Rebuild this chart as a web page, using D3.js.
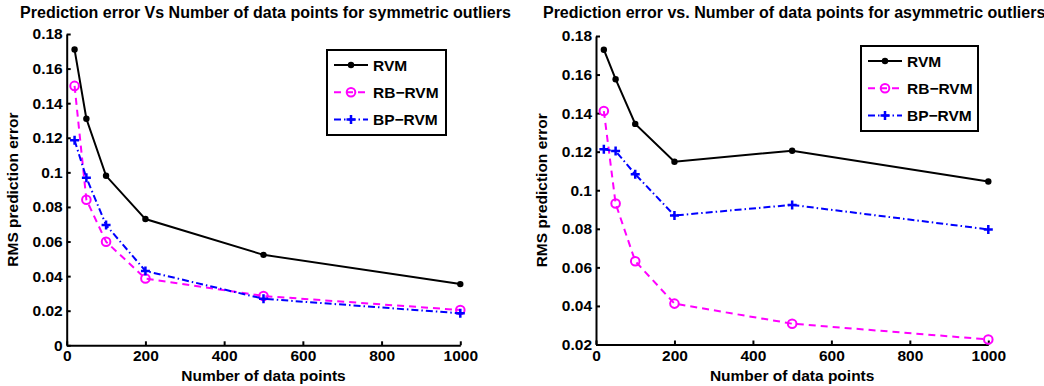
<!DOCTYPE html>
<html>
<head>
<meta charset="utf-8">
<script src="https://cdn.jsdelivr.net/npm/d3@7"></script>
<style>
  body { margin:0; background:#fff; }
  svg { display:block; font-family:"Liberation Sans", Arial, Helvetica, sans-serif; font-weight:bold; }
  .axis path, .axis line { stroke:#000; stroke-width:2; }
  .axis text { font-size:15.5px; fill:#000; font-weight:bold; }
</style>
</head>
<body>
<svg id="chart" width="1044" height="386"></svg>
<script>
const pointsX = [20, 50, 100, 200, 500, 1000];
const xTicks = [0, 200, 400, 600, 800, 1000];

// symmetric outliers
const symRVM   = [0.171, 0.131, 0.098, 0.073, 0.0523, 0.0354];
const symRB    = [0.150, 0.0842, 0.0599, 0.0386, 0.0285, 0.0204];
const symBP    = [0.1185, 0.0969, 0.0695, 0.0430, 0.0269, 0.0185];
const symTicks = [0, 0.02, 0.04, 0.06, 0.08, 0.1, 0.12, 0.14, 0.16, 0.18];

// asymmetric outliers
const asymRVM   = [0.1729, 0.1576, 0.1344, 0.1148, 0.1205, 0.1045];
const asymRB    = [0.1411, 0.0931, 0.0632, 0.0412, 0.0308, 0.0226];
const asymBP    = [0.1212, 0.1203, 0.1083, 0.0869, 0.0924, 0.0797];
const asymTicks = [0.02, 0.04, 0.06, 0.08, 0.1, 0.12, 0.14, 0.16, 0.18];

const seriesNames = ["RVM", "RB\u2212RVM", "BP\u2212RVM"];

const STYLE = [
  {color:"#000",    dash:null,      marker:"dot"},
  {color:"#ff00ff", dash:"7,5",     marker:"circle"},
  {color:"#0000ff", dash:"7,3,1.5,3", marker:"plus"}
];

const panels = [
  {
    title:"Prediction error Vs Number of data points for symmetric outliers",
    series:[symRVM, symRB, symBP],
    yTicks:symTicks,
    x0:66.7, x1:460.3, yTop:34, yBot:345.3,
    legend:{x:327, y:50, w:119, h:85}
  },
  {
    title:"Prediction error vs. Number of data points for asymmetric outliers",
    series:[asymRVM, asymRB, asymBP],
    yTicks:asymTicks,
    x0:596, x1:988.3, yTop:36, yBot:344.5,
    legend:{x:861, y:46, w:117, h:85}
  }
];

const FS = "15.5px";
const svg = d3.select("#chart");

function drawMarker(g, type, cx, cy, color) {
  if (type === "dot") {
    g.append("circle").attr("cx",cx).attr("cy",cy).attr("r",3.2).attr("fill",color);
  } else if (type === "circle") {
    g.append("circle").attr("cx",cx).attr("cy",cy).attr("r",4.3)
      .attr("fill","none").attr("stroke",color).attr("stroke-width",2);
  } else {
    g.append("path").attr("d",`M${cx-4.5},${cy}H${cx+4.5}M${cx},${cy-4.5}V${cy+4.5}`)
      .attr("stroke",color).attr("stroke-width",2.5);
  }
}

panels.forEach(p=>{
  const yDom = d3.extent(p.yTicks);
  const x = d3.scaleLinear().domain(d3.extent(xTicks)).range([p.x0, p.x1]);
  const y = d3.scaleLinear().domain(yDom).range([p.yBot, p.yTop]);

  svg.append("g")
    .attr("class","axis")
    .attr("transform",`translate(0,${p.yBot})`)
    .call(d3.axisBottom(x).tickValues(xTicks).tickSizeInner(-4).tickSizeOuter(0).tickPadding(5).tickFormat(d3.format("d")));

  svg.append("g")
    .attr("class","axis")
    .attr("transform",`translate(${p.x0},0)`)
    .call(d3.axisLeft(y).tickValues(p.yTicks).tickSizeInner(-4).tickSizeOuter(0).tickPadding(4)
      .tickFormat(d => String(+d.toFixed(2))));

  // title
  svg.append("text")
    .attr("x",(p.x0+p.x1)/2 + 2).attr("y",18)
    .attr("text-anchor","middle")
    .style("font-size","16px")
    .text(p.title);

  // axis labels
  svg.append("text")
    .attr("x",(p.x0+p.x1)/2).attr("y",381)
    .attr("text-anchor","middle")
    .style("font-size",FS)
    .text("Number of data points");

  svg.append("text")
    .attr("transform",`translate(${p.x0-49},${(p.yTop+p.yBot)/2}) rotate(-90)`)
    .attr("text-anchor","middle")
    .style("font-size",FS)
    .text("RMS prediction error");

  const line = d3.line().x((d,i)=>x(pointsX[i])).y(d=>y(d));

  p.series.forEach((vals,si)=>{
    const st = STYLE[si];
    svg.append("path")
      .datum(vals)
      .attr("d",line)
      .attr("fill","none")
      .attr("stroke",st.color)
      .attr("stroke-width",2)
      .attr("stroke-dasharray",st.dash);
    const mg = svg.append("g");
    vals.forEach((v,i)=>drawMarker(mg, st.marker, x(pointsX[i]), y(v), st.color));
  });

  // legend
  const L = p.legend;
  const lg = svg.append("g").attr("transform",`translate(${L.x},${L.y})`);
  lg.append("rect").attr("width",L.w).attr("height",L.h)
    .attr("fill","#fff").attr("stroke","#000").attr("stroke-width",2);
  seriesNames.forEach((name,si)=>{
    const st = STYLE[si];
    const ry = 15 + si*27.2;
    lg.append("line").attr("x1",7).attr("x2",41).attr("y1",ry).attr("y2",ry)
      .attr("stroke",st.color).attr("stroke-width",2).attr("stroke-dasharray",st.dash);
    drawMarker(lg, st.marker, 24, ry, st.color);
    lg.append("text").attr("x",46).attr("y",ry+5.5)
      .style("font-size",FS).text(name);
  });
});
</script>
</body>
</html>
